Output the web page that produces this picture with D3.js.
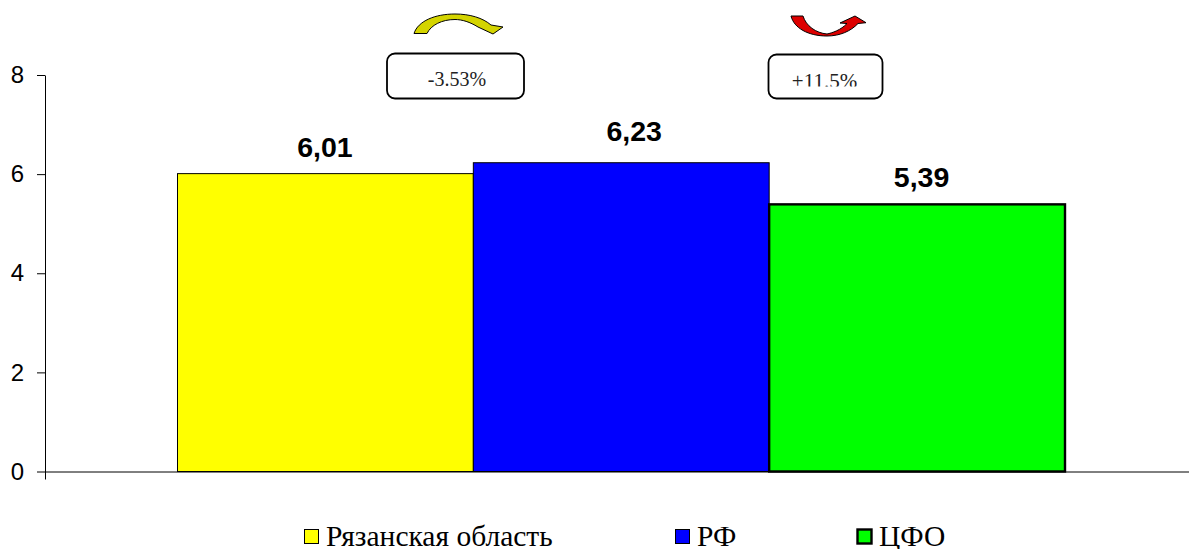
<!DOCTYPE html>
<html lang="en">
<head>
  <meta charset="utf-8">
  <script src="https://cdnjs.cloudflare.com/ajax/libs/d3/7.8.5/d3.min.js"></script>
  <title>Рязанская область, РФ, ЦФО</title>
</head>
<style>
html, body { margin: 0; padding: 0; background: #fff; }
svg { display: block; }
</style>
<body>
  <div id="chart"></div>
<script>
  const categories = ["Рязанская область", "РФ", "ЦФО"];
  const values = [6.01, 6.23, 5.39];
  const valueLabels = ["6,01", "6,23", "5,39"];
  const colors = ["#ffff00", "#0000ff", "#00ff00"];
  const strokeWidths = [1, 1, 2.4];
  const yTicks = [0, 2, 4, 6, 8];
  const changes = ["-3.53%", "+11.5%"];

  const width = 1189, height = 549;
  const svg = d3.select("#chart").append("svg").attr("width", width).attr("height", height);

  const y = d3.scaleLinear().domain([0, 8]).range([471.5, 75]);
  const x = d3.scaleBand().domain(categories).range([177.5, 1065]);

  // labels were hand placed in the original, so they sit off centre
  const labelDx = [-0.5, 13, 4.5];
  const labelDy = [-16.5, -22, -17.5];

  const g = svg.append("g");

  g.selectAll(".bar")
    .data(categories)
    .enter()
    .append("rect")
    .attr("class", "bar")
    .attr("x", function(d){return x(d);})
    .attr("y", function(d, i){return y(values[i]);})
    .attr("width", x.bandwidth())
    .attr("height", function(d, i){return y(0) - y(values[i]);})
    .attr("fill", function(d, i){return colors[i];})
    .attr("stroke", "#000")
    .attr("stroke-width", function(d, i){return strokeWidths[i];});

  g.selectAll(".value")
    .data(valueLabels)
    .enter()
    .append("text")
    .attr("x", function(d, i){return x(categories[i]) + x.bandwidth() / 2 + labelDx[i];})
    .attr("y", function(d, i){return y(values[i]) + labelDy[i];})
    .attr("text-anchor", "middle")
    .style("font", "bold 28.5px 'Liberation Sans'")
    .text(function(d){return d;});

  // axes
  const yAxis = d3.axisLeft(y).tickValues(yTicks).tickSize(8).tickSizeOuter(0);
  const yG = svg.append("g").attr("transform", "translate(45,0)").call(yAxis);
  yG.select(".domain").attr("stroke", "#000");
  yG.selectAll("text").style("font", "24px 'Liberation Sans'").attr("x", -21).attr("fill", "#000");

  const xAxis = d3.axisBottom(d3.scaleLinear().domain([0, 1]).range([45, 1189])).tickValues([0]).tickSize(8).tickSizeOuter(0).tickFormat("");
  svg.append("g").attr("transform", "translate(0,471.5)").call(xAxis);

  // arrows and boxes above the bars
  const arrows = [
    {d: "M414,33.5 C418,21 435,14 455,14 C470,14 483,18 491,25 L503,27 L493,34 L478,27 C470,22 462,19.5 455,19.5 C442,19.5 431,25 427,33.5 Z", fill: "#d4d400"},
    {d: "M791,16 L803,16 C806,26 816,33 827,34 C832,33 841,30 847,23.5 L840,23 L855,16 L866,22.7 L858,23.5 C851,31 840,36 827,36 C808,36 794,28 791,16 Z", fill: "#dd0000"}
  ];
  svg.selectAll(".arrow")
    .data(arrows)
    .enter()
    .append("path")
    .attr("class", "arrow")
    .attr("d", function(d){return d.d;})
    .attr("fill", function(d){return d.fill;})
    .attr("stroke", "#000");

  const boxes = [{x: 387, y: 53.5, w: 137, h: 45}, {x: 768.5, y: 54.5, w: 114, h: 44}];
  svg.selectAll(".box")
    .data(boxes)
    .enter()
    .append("rect")
    .attr("class", "box")
    .attr("x", function(d){return d.x;})
    .attr("y", function(d){return d.y;})
    .attr("width", function(d){return d.w;})
    .attr("height", function(d){return d.h;})
    .attr("rx", 8)
    .attr("fill", "#fff")
    .attr("stroke", "#000")
    .attr("stroke-width", 1.8);

  // the second box cuts off the bottom of its text
  svg.append("clipPath").attr("id", "box-text-clip")
    .append("rect").attr("x", 380).attr("y", 60).attr("width", 510).attr("height", 26.5);

  svg.selectAll(".change")
    .data(changes)
    .enter()
    .append("text")
    .attr("x", function(d, i){return i ? 824.5 : 457;})
    .attr("y", function(d, i){return i ? 88 : 86;})
    .attr("text-anchor", "middle")
    .attr("clip-path", "url(#box-text-clip)")
    .style("font", function(d, i){return (i ? 21 : 20) + "px 'Liberation Serif'";})
    .attr("fill", "#222")
    .text(function(d){return d;});

  // legend
  const legendX = [304.5, 675.5, 857.5];
  const legend = svg.selectAll(".legend")
    .data(categories)
    .enter()
    .append("g")
    .attr("transform", function(d, i){return "translate(" + legendX[i] + ",529.5)";});
  legend.append("rect")
    .attr("width", 14).attr("height", 14)
    .attr("fill", function(d, i){return colors[i];})
    .attr("stroke", "#000")
    .attr("stroke-width", function(d, i){return strokeWidths[i];});
  legend.append("text")
    .attr("x", 21.5).attr("y", 16)
    .style("font", "29.5px 'Liberation Serif'")
    .text(function(d){return d;});
</script>
</body>
</html>
